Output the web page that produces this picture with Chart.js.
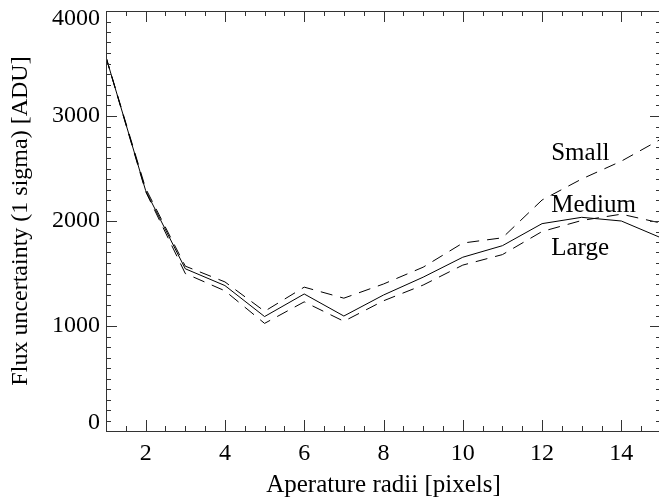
<!DOCTYPE html>
<html>
<head>
<meta charset="utf-8">
<script src="https://cdn.jsdelivr.net/npm/chart.js@4.4.1/dist/chart.umd.min.js"></script>
<style>
  html, body { margin: 0; padding: 0; background: #fff; overflow: hidden; }
  #wrap { width: 664px; height: 498px; }
</style>
</head>
<body>
<div id="wrap"><canvas id="fluxChart" width="664" height="498"></canvas></div>
<script>
// aperture radii (pixels)
const radii = [1, 2, 3, 4, 5, 6, 7, 8, 9, 10, 11, 12, 13, 14, 15];

// flux uncertainty per sky annulus size
const medium = [3560, 2290, 1545, 1385, 1090, 1305, 1095, 1295, 1465, 1655, 1765, 1975, 2035, 2000, 1840];
const small  = [3560, 2310, 1570, 1420, 1140, 1370, 1265, 1400, 1560, 1790, 1840, 2200, 2400, 2570, 2780];
const large  = [3560, 2280, 1500, 1335, 1025, 1230, 1045, 1240, 1390, 1580, 1680, 1900, 2005, 2065, 1980];

const xTicks = [2, 4, 6, 8, 10, 12, 14];
const yTicks = [0, 1000, 2000, 3000, 4000];

// labels placed in data space
const seriesLabels = [
  { text: 'Small',  x: 12.23, y: 2640 },
  { text: 'Medium', x: 12.23, y: 2150 },
  { text: 'Large',  x: 12.23, y: 1740 }
];

const FONT = 'Liberation Serif, Times New Roman, serif';

const toPoints = arr => arr.map((v, i) => ({ x: radii[i], y: v }));

// IDL-style inward ticks on all four sides, y tick labels and the text labels
const frameTicks = {
  id: 'frameTicks',
  afterDatasetsDraw(chart) {
    const { ctx, chartArea: a, scales: { x, y } } = chart;
    ctx.save();
    ctx.strokeStyle = '#333';
    ctx.lineWidth = 1;
    ctx.beginPath();
    for (let v = 1; v <= 15.001; v += 0.5) {
      const px = Math.round(x.getPixelForValue(v)) + 0.5;
      const len = (v % 2 === 0) ? 11 : 5;
      ctx.moveTo(px, a.bottom); ctx.lineTo(px, a.bottom - len);
      ctx.moveTo(px, a.top); ctx.lineTo(px, a.top + len);
    }
    for (let v = 0; v <= 4000; v += 100) {
      const py = Math.round(y.getPixelForValue(v)) + 0.5;
      const len = (v % 1000 === 0) ? 11 : 5;
      ctx.moveTo(a.left, py); ctx.lineTo(a.left + len, py);
      ctx.moveTo(a.right, py); ctx.lineTo(a.right - len, py);
    }
    ctx.stroke();
    ctx.strokeRect(Math.round(a.left) + 0.5, Math.round(a.top) + 0.5,
                   Math.round(a.right - a.left), Math.round(a.bottom - a.top));

    ctx.fillStyle = '#000';
    ctx.font = '24px ' + FONT;
    ctx.textBaseline = 'middle';
    ctx.textAlign = 'right';
    yTicks.forEach(v => {
      const py = Math.min(Math.max(y.getPixelForValue(v), a.top + 8), a.bottom - 8);
      ctx.fillText(String(v), a.left - 6, py);
    });

    ctx.font = '25px ' + FONT;
    ctx.textAlign = 'left';
    seriesLabels.forEach(l => {
      ctx.fillText(l.text, x.getPixelForValue(l.x), y.getPixelForValue(l.y));
    });
    ctx.restore();
  }
};

new Chart(document.getElementById('fluxChart'), {
  type: 'line',
  data: {
    datasets: [
      { label: 'Medium', data: toPoints(medium), borderColor: '#000', borderWidth: 1, pointRadius: 0, tension: 0 },
      { label: 'Small',  data: toPoints(small),  borderColor: '#000', borderWidth: 1, borderDash: [12, 8], pointRadius: 0, tension: 0 },
      { label: 'Large',  data: toPoints(large),  borderColor: '#000', borderWidth: 1, borderDash: [12, 8], pointRadius: 0, tension: 0 }
    ]
  },
  options: {
    responsive: false,
    animation: false,
    layout: { padding: { top: 11, right: 3, left: 0, bottom: 0 } },
    plugins: {
      legend: { display: false },
      tooltip: { enabled: false }
    },
    scales: {
      x: {
        type: 'linear',
        min: 1,
        max: 15,
        grid: { display: false, drawTicks: false },
        border: { display: false },
        afterBuildTicks: s => { s.ticks = xTicks.map(v => ({ value: v })); },
        afterFit: s => { s.height = 67; },
        ticks: {
          color: '#000',
          padding: 8,
          maxRotation: 0,
          font: { family: FONT, size: 24 }
        },
        title: {
          display: true,
          text: 'Aperature radii [pixels]',
          color: '#000',
          padding: { top: 0, bottom: -2 },
          font: { family: FONT, size: 25 }
        }
      },
      y: {
        min: 0,
        max: 4000,
        grid: { display: false, drawTicks: false },
        border: { display: false },
        afterFit: s => { s.width = 106; },
        ticks: { display: false },
        title: {
          display: true,
          text: 'Flux uncertainty (1 sigma) [ADU]',
          color: '#000',
          padding: { top: 6, bottom: 0 },
          font: { family: FONT, size: 24 }
        }
      }
    }
  },
  plugins: [frameTicks]
});
</script>
</body>
</html>
